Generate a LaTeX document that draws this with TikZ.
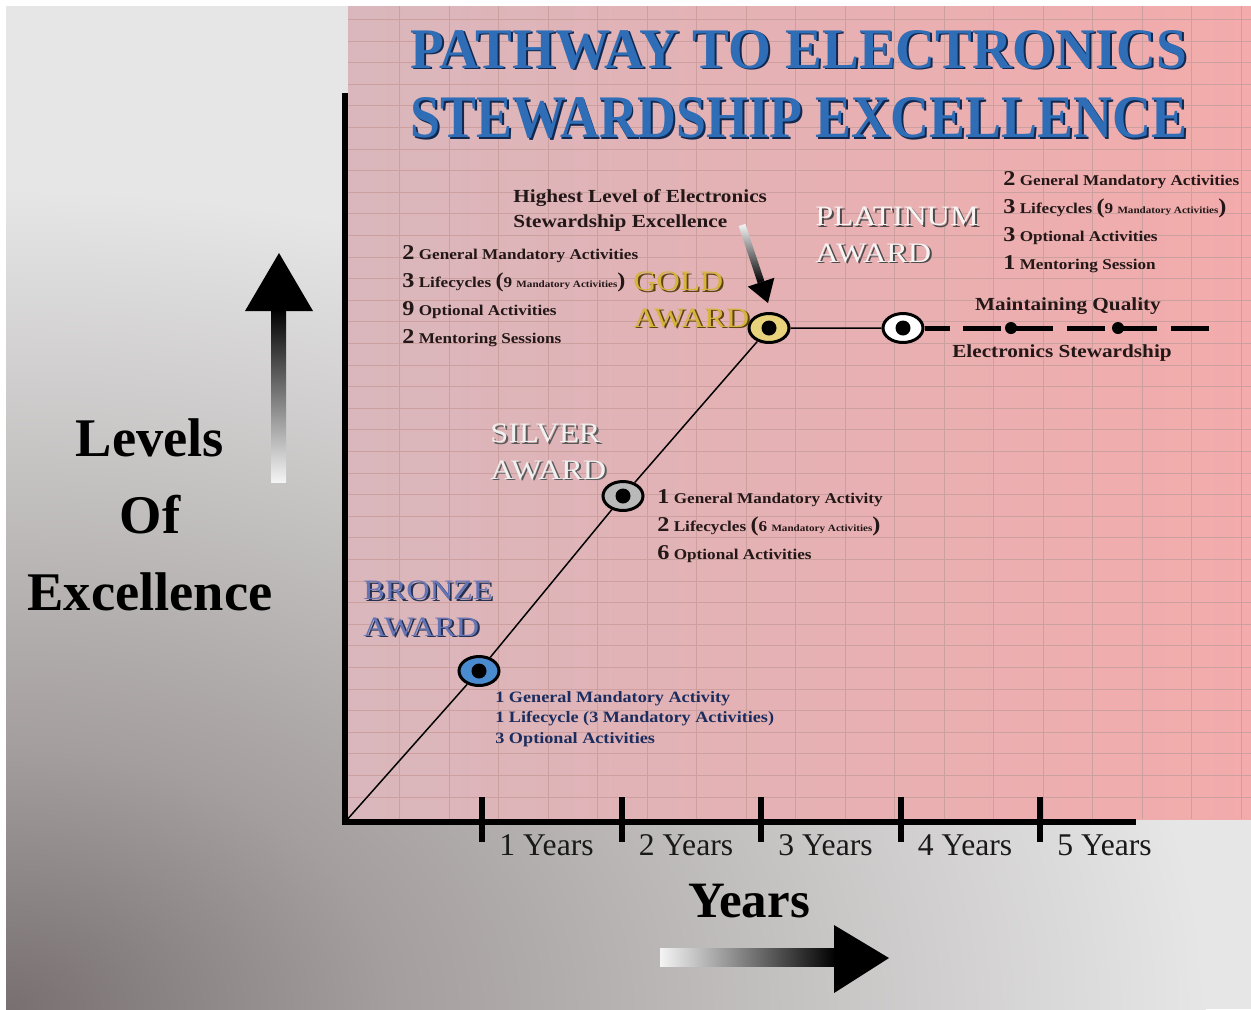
\documentclass[tikz,border=0pt]{standalone}
\usepackage{fontspec}
\setmainfont{Liberation Serif}
\newfontfamily\widefont[FakeStretch=1.15]{Liberation Serif}
\usepackage{graphicx}
\usetikzlibrary{shapes.geometric}
\usetikzlibrary{calc}

\definecolor{backlight}{HTML}{E6E6E6}
\definecolor{backmid}{HTML}{A49E9E}
\definecolor{backdark}{HTML}{787070}
\definecolor{pinkleft}{HTML}{D9B7BC}
\definecolor{pinkright}{HTML}{F3ABAB}
\definecolor{gridpink}{HTML}{CDA0A0}
\definecolor{fadewhite}{HTML}{F4F4F4}
\definecolor{titleblue}{HTML}{2F6DB6}
\definecolor{titleedge}{HTML}{13284F}
\definecolor{bronzefill}{HTML}{4A8ACF}
\definecolor{silverfill}{HTML}{B9B9B9}
\definecolor{goldfill}{HTML}{E8D27C}
\definecolor{bronzetext}{HTML}{6474B4}
\definecolor{bronzeedge}{HTML}{26304F}
\definecolor{silvertext}{HTML}{F0F0F0}
\definecolor{silveredge}{HTML}{5A5A5A}
\definecolor{goldtext}{HTML}{D6B23E}
\definecolor{goldedge}{HTML}{5E4510}
\definecolor{platinumtext}{HTML}{F7F3F3}
\definecolor{platinumedge}{HTML}{4A4A4A}
\definecolor{listink}{HTML}{231717}
\definecolor{bronzeink}{HTML}{1B2D5E}

% dark corner of the backdrop
\pgfdeclareradialshading{backglow}{\pgfpoint{0bp}{0bp}}{%
  color(0bp)=(backdark); color(8bp)=(backmid); color(25bp)=(backlight); color(50bp)=(backlight)}

% text with a dark copy just behind it
\newcommand{\embossed}[2]{\makebox[0pt][l]{\kern1.1pt\raisebox{-1.1pt}{\textcolor{#1}{#2}}}#2}
\newcommand{\bignum}[1]{{\fontsize{12}{14}\selectfont #1}}
\newcommand{\smallnote}[1]{{\fontsize{5.5}{7}\selectfont #1}}

\tikzset {
  grid line/.style = {
    draw = gridpink,
    line width = 0.45pt
  },
  axis line/.style = {
    draw = black,
    line width = 0.12cm
  },
  year tick/.style = {
    axis line
  },
  % labels under the ticks
  year label/.style = {
    anchor = base west,
    inner sep = 0,
    text = black!90,
    font = \fontsize{18}{20}\selectfont
  },
  axis title/.style = {
    inner sep = 0,
    text = black,
    font = \fontsize{29}{34}\selectfont\bfseries
  },
  title text/.style = {
    anchor = base west,
    inner sep = 0,
    text = titleblue,
    font = \fontsize{32}{36}\selectfont\bfseries
  }
}
\tikzset {
  % award point on the pathway
  award dot/.style = {
    draw = black,
    ellipse,
    line width = 0.06cm,
    minimum width = 0.8cm,
    minimum height = 0.58cm,
    inner sep = 0,
    path picture = {
      \fill[black] (path picture bounding box.center) circle (0.15cm);
    }
  },
  path line/.style = {
    draw = black,
    line width = 0.85pt
  },
  quality line/.style = {
    draw = black,
    line width = 0.1cm,
    dash pattern = on 0.76cm off 0.28cm,
    dash phase = 0.26cm
  },
  quality dot/.style = {
    circle,
    fill = black,
    minimum size = 0.24cm,
    inner sep = 0
  },
  % AWARD names, placed by the baseline of their last line
  award label/.style = {
    anchor = base west,
    align = left,
    inner sep = 0,
    font = \widefont\fontsize{16}{20.7}\selectfont
  },
  % requirement lists, placed by the baseline of their last line
  step list/.style = {
    anchor = base west,
    align = left,
    inner sep = 0,
    text = listink,
    font = \widefont\bfseries\fontsize{8.5}{15.9}\selectfont
  },
  note text/.style = {
    inner sep = 0,
    text = listink,
    font = \widefont\bfseries\fontsize{10.5}{14.2}\selectfont
  }
}

\begin{document}
\begin{tikzpicture}[x = 0.02cm, y = -0.02cm]
  \useasboundingbox (0,0) rectangle (1251,1009);
  \fill[white] (0,0) rectangle (1251,1009);

  % backdrop
  \begin{scope}
    \clip (6,6) rectangle (1251,1009);
    \fill[backlight] (6,6) rectangle (1251,1009);
    \shade[shading = backglow] (6,1009) ellipse [x radius = 1200, y radius = 820];
  \end{scope}
  \shade[left color = pinkleft, right color = pinkright] (348,6) rectangle (1251,819);
  \foreach \gx in {399.5,449,...,1250}
    \draw[grid line] (\gx,6) -- (\gx,819);
  \foreach \gy in {797,775.4,...,10}
    \draw[grid line] (348,\gy) -- (1251,\gy);

  % heading
  \node[title text] (title-top) at (410,68)
    {\resizebox{15.54cm}{0.76cm}{\embossed{titleedge}{PATHWAY TO ELECTRONICS}}};
  \node[title text] (title-bottom) at (410,137)
    {\resizebox{15.54cm}{0.8cm}{\embossed{titleedge}{STEWARDSHIP EXCELLENCE}}};

  % axes
  \coordinate (origin) at (345,822);
  \coordinate (y-top) at (345,93);
  \coordinate (x-end) at (1136,822);
  \draw[axis line] (y-top) -- (origin) -- (x-end);
  \foreach \n [evaluate = \n as \tickx using 482+139.5*(\n-1)] in {1,...,5} {
    \draw[year tick] (\tickx,797) -- (\tickx,842);
    \node[year label] (year-\n) at (\tickx+17,855) {\n\ Years};
  }

  \node[axis title, anchor = base] (years) at (749,917) {Years};
  \shade[left color = fadewhite, right color = black] (660,948) rectangle (836,966);
  \fill[black] (834,925) -- (889,958) -- (834,993) -- cycle;

  \node[axis title, align = center, font = \fontsize{31}{44}\selectfont\bfseries]
    (levels) at (150,515) {Levels\\Of\\Excellence};
  \shade[bottom color = fadewhite, top color = black] (271,482) rectangle (286,309);
  \fill[black] (245,311) -- (279,253) -- (313,311) -- cycle;

  % awards
  \node[award dot, fill = bronzefill] (bronze) at (479,671) {};
  \node[award dot, fill = silverfill] (silver) at (623,496) {};
  \node[award dot, fill = goldfill] (gold) at (769,328) {};
  \node[award dot, fill = white] (platinum) at (903,328) {};
  \coordinate (quality-end) at (1215,328);

  \draw[path line] (origin) -- (bronze) -- (silver) -- (gold) -- (platinum);
  \draw[quality line] (platinum) -- (quality-end);
  \node[quality dot] (quality-1) at (1011,328) {};
  \node[quality dot] (quality-2) at (1118,328) {};

  \node[award label, text = bronzetext] (bronze-label) at (363,636)
    {\embossed{bronzeedge}{BRONZE}\\\embossed{bronzeedge}{AWARD}};
  \node[award label, text = silvertext] (silver-label) at (490,479)
    {\embossed{silveredge}{SILVER}\\\embossed{silveredge}{AWARD}};
  \node[award label, text = goldtext] (gold-label) at (633,327)
    {\embossed{goldedge}{GOLD}\\\embossed{goldedge}{AWARD}};
  \node[award label, text = platinumtext] (platinum-label) at (815,262)
    {\embossed{platinumedge}{PLATINUM}\\\embossed{platinumedge}{AWARD}};

  % what each award asks for
  \node[step list, text = bronzeink, font = \widefont\bfseries\fontsize{9}{11.6}\selectfont]
    (bronze-list) at (495,743)
    {1 General Mandatory Activity\\
     1 Lifecycle (3 Mandatory Activities)\\
     3 Optional Activities};
  \node[step list] (silver-list) at (657,559)
    {\bignum{1} General Mandatory Activity\\
     \bignum{2} Lifecycles \bignum{(}6 \smallnote{Mandatory Activities}\bignum{)}\\
     \bignum{6} Optional Activities};
  \node[step list] (gold-list) at (402,343)
    {\bignum{2} General Mandatory Activities\\
     \bignum{3} Lifecycles \bignum{(}9 \smallnote{Mandatory Activities}\bignum{)}\\
     \bignum{9} Optional Activities\\
     \bignum{2} Mentoring Sessions};
  \node[step list] (platinum-list) at (1003,269)
    {\bignum{2} General Mandatory Activities\\
     \bignum{3} Lifecycles \bignum{(}9 \smallnote{Mandatory Activities}\bignum{)}\\
     \bignum{3} Optional Activities\\
     \bignum{1} Mentoring Session};

  \node[note text, anchor = base west, align = left] (highest) at (513,227)
    {Highest Level of Electronics\\Stewardship Excellence};
  \node[note text, anchor = base] (maintaining) at (1068,310) {Maintaining Quality};
  \node[note text, anchor = base] (stewardship) at (1062,357) {Electronics Stewardship};

  % pointer to the gold award
  \coordinate (pointer-start) at (742,225);
  \coordinate (pointer-tip) at ($(gold.north)+(-1,-9)$);
  \coordinate (pointer-base) at ($(pointer-tip)!0.44cm!(pointer-start)$);
  \shade[top color = fadewhite, bottom color = black]
    ($(pointer-start)!0.07cm!90:(pointer-tip)$) -- ($(pointer-base)!0.07cm!-90:(pointer-start)$)
    -- ($(pointer-base)!0.07cm!90:(pointer-start)$) -- ($(pointer-start)!0.07cm!-90:(pointer-tip)$) -- cycle;
  \fill[black] ($(pointer-base)!0.28cm!90:(pointer-tip)$) -- (pointer-tip)
    -- ($(pointer-base)!0.28cm!-90:(pointer-tip)$) -- cycle;
\end{tikzpicture}
\end{document}
